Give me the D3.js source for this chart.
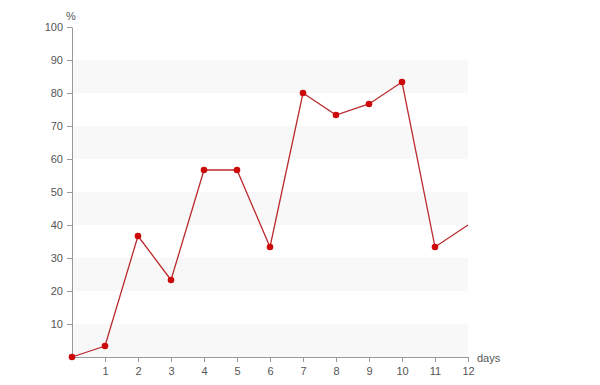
<!DOCTYPE html>
<html><head><meta charset="utf-8">
<script src="https://cdn.jsdelivr.net/npm/d3@7"></script>
<style>body{margin:0;background:#fff}svg{display:block}text{font-family:"Liberation Sans",Arial,sans-serif}</style>
</head><body>
<script>
const days = [0,1,2,3,4,5,6,7,8,9,10,11,12];
const values = [0,3.33,36.67,23.33,56.67,56.67,33.33,80,73.33,76.67,83.33,33.33,40];
const xTicks = [1,2,3,4,5,6,7,8,9,10,11,12];
const yTicks = [10,20,30,40,50,60,70,80,90,100];
const bands = [[0,10],[20,30],[40,50],[60,70],[80,90]];

const W=600,H=385;
const svg=d3.select("body").append("svg").attr("width",W).attr("height",H);
const x=d3.scaleLinear().domain([0,12]).range([72,468]);
const y=d3.scaleLinear().domain([0,100]).range([357,27]);

svg.selectAll("rect.band").data(bands).join("rect").attr("class","band")
  .attr("x",x(0)+1).attr("width",x(12)-x(0)-1)
  .attr("y",d=>y(d[1])).attr("height",d=>y(d[0])-y(d[1]))
  .attr("fill","#f8f8f8");

const gx=svg.append("g").attr("transform",`translate(0,${y(0)})`)
  .call(d3.axisBottom(x).tickValues(xTicks).tickSize(5).tickPadding(5).tickSizeOuter(0));
const gy=svg.append("g").attr("transform",`translate(${x(0)},0)`)
  .call(d3.axisLeft(y).tickValues(yTicks).tickSize(5).tickPadding(4).tickSizeOuter(0));
[gx,gy].forEach(g=>{
  g.select(".domain").attr("stroke","#999");
  g.selectAll(".tick line").attr("stroke","#999");
  g.selectAll(".tick text").attr("fill","#555").style("font-size","11px").style("font-family","'Liberation Sans',Arial,sans-serif");
});

svg.append("text").attr("x",477).attr("y",y(0)+5).attr("fill","#555").style("font-size","11px").text("days");
svg.append("text").attr("x",66).attr("y",20).attr("fill","#555").style("font-size","11px").text("%");

const pts=days.map((d,i)=>[d,values[i]]);
svg.append("path").datum(pts).attr("fill","none").attr("stroke","#bb2a2e").attr("stroke-width",1.3)
  .attr("d",d3.line().x(d=>x(d[0])).y(d=>y(d[1])));
svg.selectAll("circle").data(pts.slice(0,12)).join("circle")
  .attr("cx",d=>x(d[0])).attr("cy",d=>y(d[1])).attr("r",3.3).attr("fill","#cc0a0a");
</script>
</body></html>
